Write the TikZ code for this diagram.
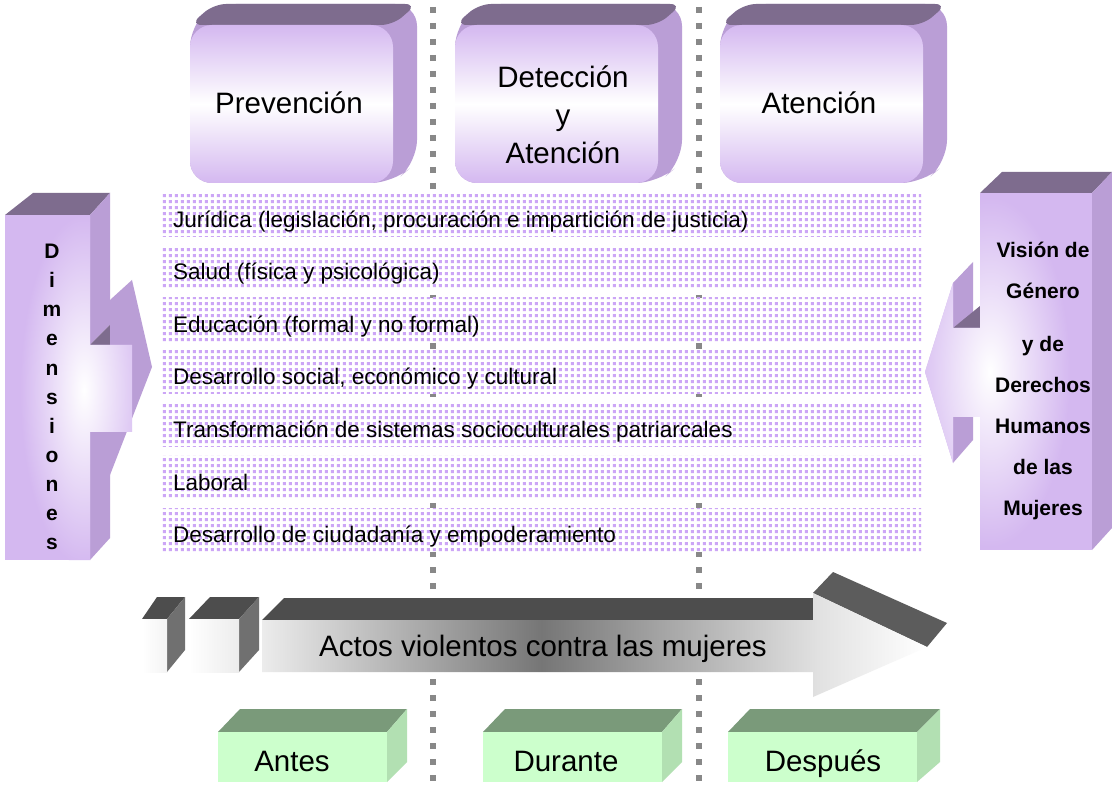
\documentclass[tikz,border=0pt]{standalone}
\usepackage{fontspec}
\setmainfont{Liberation Sans}
\usetikzlibrary{patterns}

\definecolor{purpFront}{RGB}{212,184,240}
\definecolor{purpSide}{RGB}{186,158,214}
\definecolor{purpTop}{RGB}{126,108,142}
\definecolor{bandDot}{RGB}{204,166,246}
\definecolor{dotGray}{RGB}{136,136,136}
\definecolor{greenFront}{RGB}{204,255,204}
\definecolor{greenTop}{RGB}{122,154,122}
\definecolor{greenSide}{RGB}{178,224,178}
\definecolor{actTop}{RGB}{77,77,77}
\definecolor{actHead}{RGB}{92,92,92}
\definecolor{actSide}{RGB}{112,112,112}
\definecolor{actLight}{RGB}{236,236,236}
\definecolor{actDark}{RGB}{118,118,118}
\definecolor{actMid}{RGB}{226,226,226}

\pgfdeclarepatternformonly{banddots}{\pgfpointorigin}{\pgfpoint{6pt}{6pt}}{\pgfpoint{6pt}{6pt}}{%
  \pgfpathrectangle{\pgfpoint{1pt}{1pt}}{\pgfpoint{3.5pt}{3.5pt}}%
  \pgfusepath{fill}}

\pgfdeclarehorizontalshading{actosshade}{100bp}{color(0bp)=(actLight); color(25bp)=(actLight);
  color(46bp)=(actDark); color(67bp)=(actMid); color(75bp)=(white); color(100bp)=(white)}

\tikzset{
  band/.style={fill=white, postaction={pattern=banddots, pattern color=bandDot}},
  bandtext/.style={anchor=base west, inner sep=0pt, font=\fontsize{22.5}{26}\selectfont},
  dotline/.style={line width=6pt, draw=dotGray, dash pattern=on 6pt off 10pt, dash phase=9pt},
  pfront/.style={top color=purpFront, bottom color=purpFront, middle color=white, rounded corners=22pt},
  pside/.style={fill=purpSide}, ptop/.style={fill=purpTop},
  glow/.style={inner color=white, outer color=purpFront},
  bigtext/.style={font=\fontsize{29.5}{38}\selectfont, align=center},
  boldtext/.style={font=\bfseries\fontsize{21}{41}\selectfont, align=center},
  gfront/.style={fill=greenFront}, gtop/.style={fill=greenTop}, gside/.style={fill=greenSide},
  atop/.style={fill=actTop}, ahead/.style={fill=actHead}, aside/.style={fill=actSide},
}

\begin{document}
\begin{tikzpicture}[x=1pt, y=-1pt]
  \useasboundingbox (0,0) rectangle (1112,786);
  \fill[white] (0,0) rectangle (1112,786);

  % time separators
  \draw[dotline] (433,0) -- (433,786);
  \draw[dotline] (699,0) -- (699,786);

  % dimension bands
  \path[band] (160,193) rectangle (921,237);
  \path[band] (160,247) rectangle (921,289);
  \path[band] (160,298) rectangle (921,342);
  \path[band] (160,351) rectangle (921,394);
  \path[band] (160,403) rectangle (921,447);
  \path[band] (160,455) rectangle (921,498);
  \path[band] (160,508) rectangle (921,552);
  \node[bandtext] (juridica) at (173,227.5) {Jurídica (legislación, procuración e impartición de justicia)};
  \node[bandtext] (salud) at (173,280) {Salud (física y psicológica)};
  \node[bandtext] (educacion) at (173,332.5) {Educación (formal y no formal)};
  \node[bandtext] (desarrollo) at (173,385) {Desarrollo social, económico y cultural};
  \node[bandtext] (transform) at (173,437.5) {Transformación de sistemas socioculturales patriarcales};
  \node[bandtext] (laboral) at (173,490) {Laboral};
  \node[bandtext] (ciudadania) at (173,542.5) {Desarrollo de ciudadanía y empoderamiento};

  % top boxes
  \fill[pside, rounded corners=22pt] (190,183) -- (190,25) -- (214,4) -- (417,4) -- (417,162) -- (393,183) -- cycle;
  \fill[ptop, rounded corners=12pt] (190,25) -- (214,4) -- (417,4) -- (393,25) -- cycle;
  \shade[pfront] (190,25) rectangle (393,183);
  \fill[pside, rounded corners=22pt] (455,183) -- (455,25) -- (479,4) -- (682,4) -- (682,162) -- (658,183) -- cycle;
  \fill[ptop, rounded corners=12pt] (455,25) -- (479,4) -- (682,4) -- (658,25) -- cycle;
  \shade[pfront] (455,25) rectangle (658,183);
  \fill[pside, rounded corners=22pt] (720,183) -- (720,25) -- (744,4) -- (947,4) -- (947,162) -- (923,183) -- cycle;
  \fill[ptop, rounded corners=12pt] (720,25) -- (744,4) -- (947,4) -- (923,25) -- cycle;
  \shade[pfront] (720,25) rectangle (923,183);
  \node[bigtext] (prevencion) at (289,103) {Prevención};
  \node[bigtext] (deteccion) at (563,115) {Detección\\y\\Atención};
  \node[bigtext] (atencion) at (819,103) {Atención};

  % left box
  \fill[ptop] (5,215) -- (33,193) -- (110,193) -- (90,215) -- cycle;
  \fill[pside] (90,215) -- (110,193) -- (110,325) -- (90,345) -- cycle;
  \fill[pside] (90,432) -- (110,432) -- (110,538) -- (90,560) -- cycle;
  \fill[ptop] (90,345) -- (110,325) -- (110,345) -- cycle;
  \fill[pside] (110,300) -- (132,280) -- (152,367) -- (110,475) -- cycle;
  \begin{scope}
    \clip (5,215) rectangle (90,560) (90,345) rectangle (132,432);
    \fill[purpFront] (5,215) rectangle (132,560);
    \shade[glow] (84,390) ellipse [x radius=64pt, y radius=175pt];
  \end{scope}
  \node[boldtext, font=\bfseries\fontsize{21}{29.1}\selectfont] (dimensiones) at (52,397) {D\\i\\m\\e\\n\\s\\i\\o\\n\\e\\s};

  % right box
  \fill[ptop] (980,193) -- (1002,172) -- (1112,172) -- (1092,193) -- cycle;
  \fill[pside] (1092,193) -- (1112,172) -- (1112,528) -- (1092,550) -- cycle;
  \fill[pside] (953,283) -- (973,262) -- (973,313) -- (953,328) -- cycle;
  \fill[pside] (953,417) -- (973,417) -- (973,440) -- (953,463) -- cycle;
  \fill[ptop] (953,328) -- (980,306) -- (980,328) -- cycle;
  \begin{scope}
    \clip (980,193) rectangle (1092,550) (925,372) -- (953,283) -- (953,328) -- (980,328) -- (980,417) -- (953,417) -- (953,463) -- cycle;
    \fill[purpFront] (925,193) rectangle (1092,550);
    \shade[glow] (990,372) ellipse [x radius=80pt, y radius=175pt];
  \end{scope}
  \node[boldtext] (vision) at (1043,381) {Visión de\\Género\\[12pt]y de\\Derechos\\Humanos\\de las\\Mujeres};

  % violence arrow
  \fill[atop] (142,619) -- (157,597) -- (185,597) -- (167,619) -- cycle;
  \fill[aside] (167,619) -- (185,597) -- (185,650) -- (167,672) -- cycle;
  \shade[left color=white, right color=actLight!60!white] (142,619) rectangle (167,672);
  \fill[atop] (189,619) -- (210,597) -- (259,597) -- (239,619) -- cycle;
  \fill[aside] (239,619) -- (259,597) -- (259,650) -- (239,672) -- cycle;
  \shade[left color=white, right color=actLight] (189,619) rectangle (239,672);
  \fill[atop] (262,620) -- (284,598) -- (813,598) -- (813,620) -- cycle;
  \fill[ahead] (813,593) -- (833,572) -- (947,623) -- (927,647) -- cycle;
  \shade[shading=actosshade] (262,620) -- (813,620) -- (813,593) -- (927,647) -- (813,697) -- (813,672) -- (262,672) -- cycle;
  \node[bigtext] (actos) at (543,649) {Actos violentos contra las mujeres};

  % moments
  \fill[gtop] (218,732) -- (240,709) -- (407,709) -- (387,732) -- cycle;
  \fill[gside] (387,732) -- (407,709) -- (407,762) -- (387,782) -- cycle;
  \fill[gfront] (218,732) rectangle (387,782);
  \fill[gtop] (483,732) -- (505,709) -- (682,709) -- (662,732) -- cycle;
  \fill[gside] (662,732) -- (682,709) -- (682,762) -- (662,782) -- cycle;
  \fill[gfront] (483,732) rectangle (662,782);
  \fill[gtop] (728,732) -- (750,709) -- (940,709) -- (917,732) -- cycle;
  \fill[gside] (917,732) -- (940,709) -- (940,762) -- (917,782) -- cycle;
  \fill[gfront] (728,732) rectangle (917,782);
  \node[bigtext, anchor=base] (antes) at (292,771) {Antes};
  \node[bigtext, anchor=base] (durante) at (566,771) {Durante};
  \node[bigtext, anchor=base] (despues) at (823,771) {Después};
\end{tikzpicture}
\end{document}
